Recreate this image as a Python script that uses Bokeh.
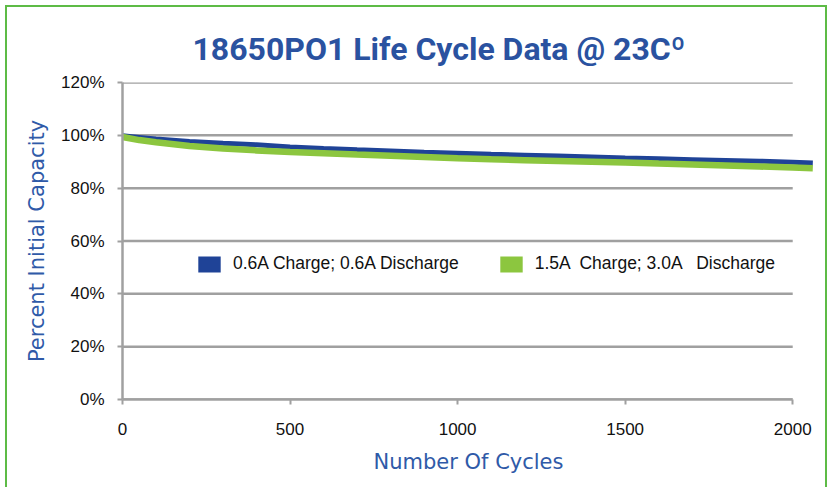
from bokeh.plotting import figure
from bokeh.models import Range1d, FixedTicker, PrintfTickFormatter, Legend, LegendItem, Title
from bokeh.embed import file_html
from bokeh.resources import INLINE

# ---- data ----
cycles = [0, 50, 100, 200, 300, 400, 500, 600, 700, 800, 900, 1000, 1100,
          1200, 1300, 1400, 1500, 1600, 1700, 1800, 1900, 2000, 2060]
cap_06_06 = [99.8, 99.2, 98.6, 97.7, 97.0, 96.4, 95.6, 95.0, 94.5, 94.1, 93.6, 93.2,
             92.8, 92.5, 92.2, 91.8, 91.4, 91.1, 90.8, 90.5, 90.2, 89.8, 89.5]
cap_15_30 = [99.4, 98.2, 97.4, 96.0, 95.0, 94.3, 93.7, 93.2, 92.7, 92.3, 91.8, 91.3,
             90.9, 90.6, 90.3, 90.0, 89.7, 89.3, 89.0, 88.6, 88.2, 87.8, 87.5]
series_labels = ["0.6A Charge; 0.6A Discharge", "1.5A  Charge; 3.0A   Discharge"]
x_ticks = [0, 500, 1000, 1500, 2000]
y_ticks = [0, 20, 40, 60, 80, 100, 120]

BLUE = "#1f4397"
GREEN = "#8cc63f"
GRID = "#a0a0a0"
LABEL_BLUE = "#2f5aa8"

p = figure(width=822, height=482, output_backend="svg", toolbar_location=None,
           x_range=Range1d(0, 2065), y_range=Range1d(0, 120),
           min_border_left=115, min_border_right=15, min_border_top=75, min_border_bottom=90)
p.styles = {"border": "2px solid #5dbb46", "border-bottom": "none",
            "margin-left": "5px", "margin-top": "5px"}
p.outline_line_color = None
p.background_fill_color = "white"
p.border_fill_color = "white"

title = Title(text="18650PO1 Life Cycle Data @ 23C\u00ba", align="left", offset=70,
              text_font="Roboto", text_font_size="32px",
              text_font_style="bold", text_color="#2a52a0", standoff=30)
p.add_layout(title, "above")

# grid lines (horizontal) only across 0..2000
p.segment(x0=[x_ticks[0]] * len(y_ticks), x1=[x_ticks[-1]] * len(y_ticks),
          y0=y_ticks, y1=y_ticks, line_color=GRID, line_width=2.5)
p.xgrid.visible = False
p.ygrid.visible = False

# data lines
r1 = p.line(cycles, cap_06_06, line_color=BLUE, line_width=5)
r2 = p.line(cycles, cap_15_30, line_color=GREEN, line_width=6.5)

# legend swatches: zero-height areas on the same data (invisible in the plot,
# drawn as filled boxes in the legend)
q1 = p.varea(x=cycles, y1=cap_06_06, y2=cap_06_06, fill_color=BLUE)
q2 = p.varea(x=cycles, y1=cap_15_30, y2=cap_15_30, fill_color=GREEN)
legend = Legend(items=[LegendItem(label=series_labels[0], renderers=[q1]),
                       LegendItem(label=series_labels[1], renderers=[q2])],
                orientation="horizontal", location=(73, 125), glyph_width=28, glyph_height=20,
                label_height=20, label_standoff=10, spacing=38, padding=0, margin=0,
                label_text_font="Liberation Sans", label_text_font_size="17.5px",
                label_text_color="#111111", background_fill_alpha=0, border_line_alpha=0)
p.add_layout(legend, "center")

# axes
for ax in (p.xaxis[0], p.yaxis[0]):
    ax.axis_line_color = GRID
    ax.axis_line_width = 2.5
    ax.major_tick_line_color = GRID
    ax.major_tick_line_width = 2
    ax.major_tick_in = 0
    ax.major_tick_out = 5
    ax.minor_tick_line_color = None
    ax.major_label_text_font = "Liberation Sans"
    ax.major_label_text_font_size = "17px"
    ax.major_label_text_color = "#111111"
    ax.axis_label_text_font = "DejaVu Sans"
    ax.axis_label_text_font_style = "normal"
    ax.axis_label_text_font_size = "21px"
    ax.axis_label_text_color = LABEL_BLUE

p.xaxis.ticker = FixedTicker(ticks=x_ticks)
p.xaxis.bounds = (x_ticks[0], x_ticks[-1])
p.xaxis.major_label_standoff = 18
p.xaxis.axis_label = "Number Of Cycles"
p.xaxis.axis_label_standoff = 12

p.yaxis.ticker = FixedTicker(ticks=y_ticks)
p.yaxis.formatter = PrintfTickFormatter(format="%d%%")
p.yaxis.major_label_standoff = 13
p.yaxis.axis_label = "Percent Initial Capacity"
p.yaxis.axis_label_standoff = 9

open("out.html", "w").write(file_html(p, INLINE))
